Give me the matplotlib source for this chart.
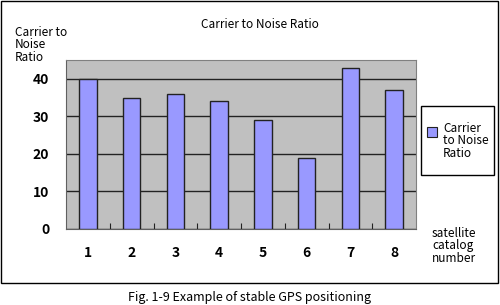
import matplotlib
matplotlib.use("Agg")
import matplotlib.pyplot as plt
from matplotlib.patches import Rectangle

categories = ["1", "2", "3", "4", "5", "6", "7", "8"]
values = [40, 35, 36, 34, 29, 19, 43, 37]
yticks = [0, 10, 20, 30, 40]

plt.rcParams['font.family'] = ['Noto Sans CJK JP', 'DejaVu Sans']

W, H = 500, 305
fig = plt.figure(figsize=(5, 3.05), dpi=100)
fig.patch.set_facecolor('white')

def fx(x): return x / W
def fy(y): return 1 - y / H

# outer frame
fig.add_artist(Rectangle((fx(1), fy(283)), fx(498) - fx(1), fy(1) - fy(283),
                         transform=fig.transFigure, fill=False, edgecolor='black', lw=1))

left, right, top, bottom = 66, 416, 60, 229
ax = fig.add_axes([fx(left), fy(bottom), fx(right) - fx(left), fy(top) - fy(bottom)])
ax.set_facecolor('#C0C0C0')
x = list(range(len(categories)))
ax.bar(x, values, width=0.4, color='#9999FF', edgecolor='#222222', linewidth=1, zorder=3)
ax.set_xlim(-0.5, len(categories) - 0.5)
ax.set_ylim(0, 45)
ax.set_yticks(yticks)
ax.yaxis.grid(True, color='#222222', lw=1, zorder=1)
ax.set_axisbelow(True)
ax.set_yticklabels([str(v) for v in yticks], fontsize=10, fontweight='bold')
ax.tick_params(axis='y', length=0, pad=12)
ax.set_xticks([i + 0.5 for i in x[:-1]])
ax.set_xticklabels([])
ax.tick_params(axis='x', direction='in', length=4, color='#222222')
for i, c in enumerate(categories):
    ax.text(i, -6.3, c, ha='center', va='center', fontsize=10, fontweight='bold')
for s in ['top', 'right']:
    ax.spines[s].set_color('#808080')
for s in ['left', 'bottom']:
    ax.spines[s].set_color('#606060')

fig.text(fx(260), fy(25), "Carrier to Noise Ratio", ha='center', va='center', fontsize=8.5)
fig.text(fx(15), fy(45), "Carrier to\nNoise\nRatio", ha='left', va='center', fontsize=8.5,
         linespacing=0.95)
fig.text(fx(432), fy(246), "satellite\ncatalog\nnumber", ha='left', va='center', fontsize=8.5,
         linespacing=0.95)
fig.text(fx(250), fy(297), "Fig. 1-9 Example of stable GPS positioning", ha='center',
         va='center', fontsize=9)

# legend box
fig.add_artist(Rectangle((fx(421), fy(175)), fx(494) - fx(421), fy(106) - fy(175),
                         transform=fig.transFigure, fill=False, edgecolor='black', lw=1))
fig.add_artist(Rectangle((fx(427), fy(137)), fx(10), fy(0) - fy(10),
                         transform=fig.transFigure, facecolor='#9999FF', edgecolor='#222222', lw=0.8))
fig.text(fx(443), fy(141), "Carrier\nto Noise\nRatio", ha='left', va='center', fontsize=8.5,
         linespacing=0.95, multialignment='left')

fig.savefig("out.png", dpi=100)
